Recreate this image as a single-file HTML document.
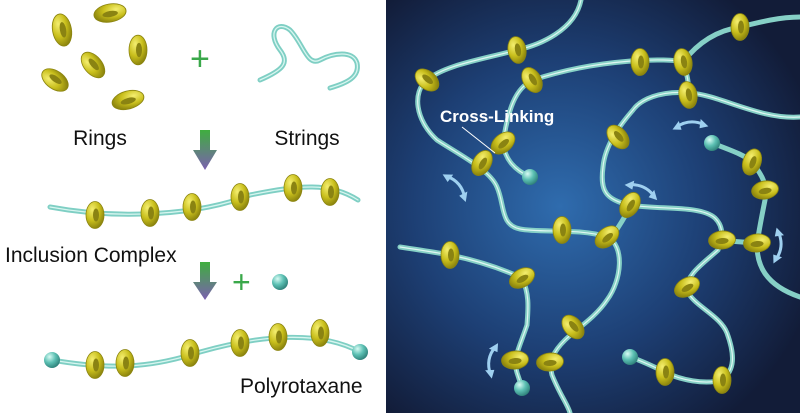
<!DOCTYPE html>
<html><head><meta charset="utf-8"><style>
html,body{margin:0;padding:0;background:#fff}
svg{display:block}
text{font-family:"Liberation Sans",sans-serif}
</style></head><body>
<svg width="800" height="413" viewBox="0 0 800 413" xmlns="http://www.w3.org/2000/svg">
<defs>
<radialGradient id="bg" cx="0.42" cy="0.5" r="0.65">
<stop offset="0" stop-color="#2f6cae"/><stop offset="0.55" stop-color="#1d3f74"/><stop offset="1" stop-color="#121c38"/>
</radialGradient>
<radialGradient id="rg" cx="0.35" cy="0.3" r="0.8">
<stop offset="0" stop-color="#f4ee70"/><stop offset="0.5" stop-color="#c9bf1c"/><stop offset="1" stop-color="#7d760a"/>
</radialGradient>
<radialGradient id="bl" cx="0.35" cy="0.3" r="0.75">
<stop offset="0" stop-color="#d8fbf4"/><stop offset="0.5" stop-color="#5cc0b3"/><stop offset="1" stop-color="#2c7d76"/>
</radialGradient>
<linearGradient id="ar" x1="0" y1="0" x2="0" y2="1">
<stop offset="0" stop-color="#3fae3f"/><stop offset="1" stop-color="#7b5fb0"/>
</linearGradient>
<g id="ring"><ellipse rx="9" ry="13.5" fill="url(#rg)" stroke="#8c8510" stroke-width="0.8"/><ellipse cx="1" rx="3" ry="6.5" fill="#8a8312"/></g>
<g id="ball"><circle r="8" fill="url(#bl)"/></g>
<g id="darr"><path d="M-14,3 Q0,-5 14,3" fill="none" stroke="#9fd0f0" stroke-width="3"/><path d="M-18,5 L-11,-3 L-9,6 Z M18,5 L11,-3 L9,6 Z" fill="#9fd0f0"/></g>
</defs>
<rect x="0" y="0" width="386" height="413" fill="#fff"/>
<rect x="386" y="0" width="414" height="413" fill="url(#bg)"/>

<g fill="none" stroke-linecap="round">
<path d="M260,80 C283,70 290,63 280,50 C267,33 277,20 290,30 C303,43 307,67 320,60 C333,53 353,50 357,63 C360,77 347,83 330,88" stroke="#7fcfc4" stroke-width="5"/>
<path d="M260,80 C283,70 290,63 280,50 C267,33 277,20 290,30 C303,43 307,67 320,60 C333,53 353,50 357,63 C360,77 347,83 330,88" stroke="#d8f6f0" stroke-width="1.3"/>
<path d="M50,207 C120,220 200,215 250,195 C300,185 330,182 358,200" stroke="#7fcfc4" stroke-width="5"/>
<path d="M50,207 C120,220 200,215 250,195 C300,185 330,182 358,200" stroke="#d8f6f0" stroke-width="1.3"/>
<path d="M52,360 C120,372 160,365 200,352 C260,335 320,330 360,352" stroke="#7fcfc4" stroke-width="5"/>
<path d="M52,360 C120,372 160,365 200,352 C260,335 320,330 360,352" stroke="#d8f6f0" stroke-width="1.3"/>
</g>
<use href="#ring" transform="translate(62,30) rotate(-10) scale(1.05,1.2)"/>
<use href="#ring" transform="translate(110,13) rotate(80) scale(1,1.2)"/>
<use href="#ring" transform="translate(138,50) scale(1,1.1)"/>
<use href="#ring" transform="translate(93,65) rotate(-40) scale(1,1.1)"/>
<use href="#ring" transform="translate(55,80) rotate(-55) scale(1,1.1)"/>
<use href="#ring" transform="translate(128,100) rotate(75) scale(1,1.2)"/>
<text x="190" y="70" font-size="34" fill="#3aa84a">+</text>
<text x="100" y="145" font-size="21" text-anchor="middle" fill="#111">Rings</text>
<text x="307" y="145" font-size="21" text-anchor="middle" fill="#111">Strings</text>
<path d="M200,130 H210 V150 H217 L205,170 L193,150 H200 Z" fill="url(#ar)"/>
<use href="#ring" transform="translate(95,215)"/>
<use href="#ring" transform="translate(150,213)"/>
<use href="#ring" transform="translate(192,207)"/>
<use href="#ring" transform="translate(240,197)"/>
<use href="#ring" transform="translate(293,188)"/>
<use href="#ring" transform="translate(330,192)"/>
<text x="5" y="262" font-size="21" fill="#111">Inclusion Complex</text>
<path d="M200,262 H210 V282 H217 L205,300 L193,282 H200 Z" fill="url(#ar)"/>
<text x="232" y="293" font-size="32" fill="#3aa84a">+</text>
<use href="#ball" transform="translate(280,282)"/>
<use href="#ball" transform="translate(52,360)"/>
<use href="#ball" transform="translate(360,352)"/>
<use href="#ring" transform="translate(95,365)"/>
<use href="#ring" transform="translate(125,363)"/>
<use href="#ring" transform="translate(190,353)"/>
<use href="#ring" transform="translate(240,343)"/>
<use href="#ring" transform="translate(278,337)"/>
<use href="#ring" transform="translate(320,333)"/>
<text x="240" y="393" font-size="21" fill="#111">Polyrotaxane</text>

<g fill="none" stroke-linecap="round" stroke="#86d0c6" stroke-width="5">
<path d="M581,0 C575,30 540,45 517,50 C480,60 445,65 427,80 C412,92 415,120 437,140 C460,155 490,170 497,187 C505,205 500,225 520,229 C540,233 580,228 607,237 C625,245 622,280 607,300 C595,318 575,330 565,340 C555,350 548,360 552,375 C560,395 568,405 570,413"/>
<path d="M800,117 C760,120 720,95 690,93 C660,90 640,100 633,110 C620,125 605,145 603,167 C600,190 605,200 630,205 C660,210 700,205 715,218 C725,228 722,240 718,250 C705,262 685,275 687,290 C692,305 720,315 727,333 C735,355 735,370 722,380 C705,385 680,380 665,372 C650,365 640,360 630,357"/>
<path d="M688,95 C690,80 685,70 683,62 C670,58 600,58 533,80 C515,88 508,110 503,143 C505,160 515,170 530,177"/>
<path d="M683,62 C700,40 720,30 740,27 C760,22 780,17 800,17"/>
<path d="M712,143 C730,150 745,155 752,162 C762,175 768,185 765,200 C762,215 758,235 757,245 C757,265 765,285 800,297"/>
<path d="M400,247 C420,250 440,253 450,255 C475,260 500,268 522,278 C530,295 528,310 527,325 C522,340 515,355 515,365 C518,378 521,383 522,388"/>
<path d="M630,205 C625,220 615,230 612,238"/>
<path d="M722,240 C735,242 745,242 757,243"/>
</g>
<g fill="none" stroke-linecap="round" stroke="#dff7f2" stroke-width="1.2">
<path d="M581,0 C575,30 540,45 517,50 C480,60 445,65 427,80 C412,92 415,120 437,140 C460,155 490,170 497,187 C505,205 500,225 520,229 C540,233 580,228 607,237 C625,245 622,280 607,300 C595,318 575,330 565,340 C555,350 548,360 552,375 C560,395 568,405 570,413"/>
<path d="M800,117 C760,120 720,95 690,93 C660,90 640,100 633,110 C620,125 605,145 603,167 C600,190 605,200 630,205 C660,210 700,205 715,218 C725,228 722,240 718,250 C705,262 685,275 687,290 C692,305 720,315 727,333 C735,355 735,370 722,380 C705,385 680,380 665,372 C650,365 640,360 630,357"/>
<path d="M688,95 C690,80 685,70 683,62 C670,58 600,58 533,80 C515,88 508,110 503,143 C505,160 515,170 530,177"/>
<path d="M400,247 C420,250 440,253 450,255 C475,260 500,268 522,278 C530,295 528,310 527,325 C522,340 515,355 515,365 C518,378 521,383 522,388"/>
</g>
<use href="#ring" transform="translate(517,50) rotate(-10)"/>
<use href="#ring" transform="translate(427,80) rotate(-50)"/>
<use href="#ring" transform="translate(532,80) rotate(-30)"/>
<use href="#ring" transform="translate(640,62)"/>
<use href="#ring" transform="translate(683,62) rotate(-10)"/>
<use href="#ring" transform="translate(688,95) rotate(-10)"/>
<use href="#ring" transform="translate(740,27)"/>
<use href="#ring" transform="translate(503,143) rotate(50)"/>
<use href="#ring" transform="translate(482,163) rotate(30)"/>
<use href="#ring" transform="translate(618,137) rotate(-40)"/>
<use href="#ring" transform="translate(752,162) rotate(20)"/>
<use href="#ring" transform="translate(765,190) rotate(80)"/>
<use href="#ring" transform="translate(562,230)"/>
<use href="#ring" transform="translate(630,205) rotate(30)"/>
<use href="#ring" transform="translate(607,237) rotate(50)"/>
<use href="#ring" transform="translate(722,240) rotate(85)"/>
<use href="#ring" transform="translate(757,243) rotate(85)"/>
<use href="#ring" transform="translate(450,255)"/>
<use href="#ring" transform="translate(522,278) rotate(60)"/>
<use href="#ring" transform="translate(687,287) rotate(60)"/>
<use href="#ring" transform="translate(573,327) rotate(-40)"/>
<use href="#ring" transform="translate(515,360) rotate(85)"/>
<use href="#ring" transform="translate(550,362) rotate(85)"/>
<use href="#ring" transform="translate(665,372)"/>
<use href="#ring" transform="translate(722,380)"/>
<use href="#ball" transform="translate(530,177)"/>
<use href="#ball" transform="translate(712,143)"/>
<use href="#ball" transform="translate(630,357)"/>
<use href="#ball" transform="translate(522,388)"/>
<use href="#darr" transform="translate(458,185) rotate(50)"/>
<use href="#darr" transform="translate(690,123) rotate(-5)"/>
<use href="#darr" transform="translate(643,188) rotate(25)"/>
<use href="#darr" transform="translate(780,246) rotate(95)"/>
<use href="#darr" transform="translate(490,360) rotate(-80)"/>
<line x1="462" y1="127" x2="495" y2="153" stroke="#fff" stroke-width="1"/>
<text x="440" y="122" font-size="17" font-weight="bold" fill="#fff">Cross-Linking</text>
</svg>
</body></html>
